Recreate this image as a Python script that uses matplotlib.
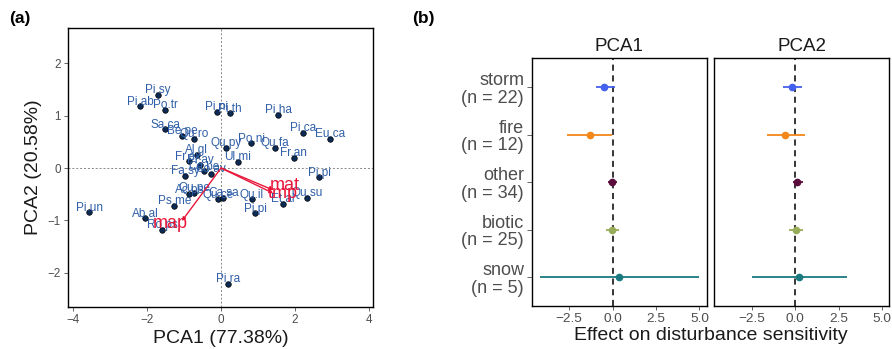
import matplotlib.pyplot as plt

plt.rcParams['font.family'] = ['Liberation Sans', 'DejaVu Sans']

# ---- panel (a): PCA of species ----
species = ['Pi.sy', 'Pi.ab', 'Po.tr', 'Pi.ni', 'Pi.th', 'Pi.ha', 'Sa.ca', 'Be.pe',
           'Qu.ro', 'Pi.ca', 'Eu.ca', 'Qu.py', 'Po.ni', 'Qu.fa', 'Fr.an', 'Al.gl',
           'Ul.mi', 'Fr.ex', 'Pr.av', 'Fa.sy', 'Ca.be', 'Co.av', 'Pi.pi', 'Ac.ps',
           'Qu.pe', 'Qu.ce', 'Ca.sa', 'Qu.il', 'Pi.pi', 'Et.al', 'Qu.su', 'Ps.me',
           'Pi.un', 'Ab.al', 'Ro.ps', 'Pi.ra']
pc1 = [-1.71, -2.19, -1.51, -0.12, 0.23, 1.55, -1.51, -1.05,
       -0.72, 2.21, 2.94, 0.14, 0.82, 1.45, 1.97, -0.66,
       0.45, -0.88, -0.57, -0.97, -0.46, -0.28, 2.66, -0.86,
       -0.72, -0.07, 0.06, 0.83, 0.92, 1.68, 2.32, -1.26,
       -3.56, -2.05, -1.60, 0.20]
pc2 = [1.40, 1.18, 1.11, 1.07, 1.05, 1.02, 0.74, 0.62,
       0.56, 0.67, 0.56, 0.39, 0.47, 0.39, 0.20, 0.25,
       0.12, 0.13, 0.06, -0.15, -0.06, -0.11, -0.18, -0.50,
       -0.47, -0.60, -0.57, -0.60, -0.86, -0.68, -0.57, -0.72,
       -0.84, -0.96, -1.18, -2.21]

variables = ['map', 'mat', 'tmp']
load1 = [-1.06, 1.41, 1.41]
load2 = [-1.01, -0.42, -0.48]
varlab1 = [-1.38, 1.73, 1.68]
varlab2 = [-1.05, -0.34, -0.48]

# ---- panel (b): effects per disturbance agent ----
agents = ['storm', 'fire', 'other', 'biotic', 'snow']
n_obs = [22, 12, 34, 25, 5]
pca1_est = [-0.48, -1.32, -0.04, -0.02, 0.38]
pca1_lo = [-0.95, -2.65, -0.26, -0.36, -4.20]
pca1_hi = [0.11, -0.02, 0.27, 0.36, 4.98]
pca2_est = [-0.19, -0.56, 0.11, 0.06, 0.21]
pca2_lo = [-0.71, -1.63, -0.14, -0.33, -2.48]
pca2_hi = [0.40, 0.59, 0.43, 0.47, 2.97]
agent_colors = ['#4361ee', '#f3871a', '#5a0d3d', '#98ad5a', '#1b7a80']

W, H = 892, 349
fig = plt.figure(figsize=(W / 100, H / 100), dpi=100)

grey = '#4d4d4d'

# panel (a)
ax = fig.add_axes([68 / W, 1 - 307 / H, 305 / W, 279 / H])
ax.axhline(0, color='#888888', lw=0.7, ls=(0, (2, 2)), zorder=0)
ax.axvline(0, color='#888888', lw=0.7, ls=(0, (2, 2)), zorder=0)
ax.scatter(pc1, pc2, s=16, color='#0b2a55', edgecolor='black', linewidth=0.5, zorder=3)
for name, x, y in zip(species, pc1, pc2):
    ax.annotate(name, (x, y), xytext=(0, 3.2), textcoords='offset points',
                ha='center', va='center', fontsize=8.5, color='#2f5fa8', zorder=4)
for v, x, y, lx, ly in zip(variables, load1, load2, varlab1, varlab2):
    ax.annotate('', xy=(x, y), xytext=(0, 0),
                arrowprops=dict(arrowstyle='-|>', color='#e8173a', lw=1.0,
                                mutation_scale=5, shrinkA=0, shrinkB=0), zorder=5)
    ax.text(lx, ly, v, ha='center', va='center', fontsize=13, color='#e8173a', zorder=6)
ax.set_xlim(-4.14, 4.11)
ax.set_ylim(-2.65, 2.67)
ax.set_xticks([-4, -2, 0, 2, 4])
ax.set_yticks([-2, -1, 0, 1, 2])
ax.set_xticklabels(['\u22124', '\u22122', '0', '2', '4'])
ax.set_yticklabels(['\u22122', '\u22121', '0', '1', '2'])
ax.tick_params(labelsize=8.4, colors=grey, length=3, width=0.6, pad=2)
ax.set_xlabel('PCA1 (77.38%)', fontsize=14, color='#1a1a1a', labelpad=3)
ax.set_ylabel('PCA2 (20.58%)', fontsize=14, color='#1a1a1a', labelpad=4)
for sp in ax.spines.values():
    sp.set_linewidth(1.0)
fig.text(9 / W, 1 - 18 / H, '(a)', fontsize=12.5, fontweight='bold', va='center')

# panel (b)
ypos = list(range(len(agents)))
ylabels = ['%s\n(n = %d)' % (a, n) for a, n in zip(agents, n_obs)]
panels = [('PCA1', pca1_est, pca1_lo, pca1_hi, 531.7),
          ('PCA2', pca2_est, pca2_lo, pca2_hi, 714.3)]
for i, (title, est, lo, hi, left) in enumerate(panels):
    bx = fig.add_axes([left / W, 1 - 306 / H, 175 / W, 247.7 / H])
    bx.axvline(0, color='black', lw=1.1, ls=(0, (4, 3)), zorder=1)
    for y, e, l, h, c in zip(ypos, est, lo, hi, agent_colors):
        bx.plot([l, h], [y, y], color=c, lw=1.3, zorder=2, solid_capstyle='butt')
        bx.plot(e, y, 'o', color=c, ms=4.5, zorder=3)
    bx.set_xlim(-4.66, 5.42)
    bx.set_ylim(len(agents) - 0.4, -0.6)
    bx.set_xticks([-2.5, 0, 2.5, 5])
    bx.set_xticklabels(['\u22122.5', '0.0', '2.5', '5.0'])
    bx.set_yticks(ypos)
    if i == 0:
        bx.set_yticklabels(ylabels, fontsize=13, color=grey, ha='right',
                           linespacing=1.05)
    else:
        bx.set_yticklabels([])
        bx.tick_params(axis='y', length=0)
    bx.tick_params(axis='x', labelsize=9.7, colors=grey, length=3, width=0.6, pad=2)
    bx.tick_params(axis='y', colors=grey, width=0.6, pad=2)
    bx.set_title(title, fontsize=13.5, color='#1a1a1a', pad=5)
    for sp in bx.spines.values():
        sp.set_linewidth(1.0)

fig.text(711 / W, 1 - 335 / H, 'Effect on disturbance sensitivity', fontsize=14,
         color='#1a1a1a', ha='center', va='center')
fig.text(412 / W, 1 - 18 / H, '(b)', fontsize=12.5, fontweight='bold', va='center')

fig.savefig('out.png', dpi=100)
